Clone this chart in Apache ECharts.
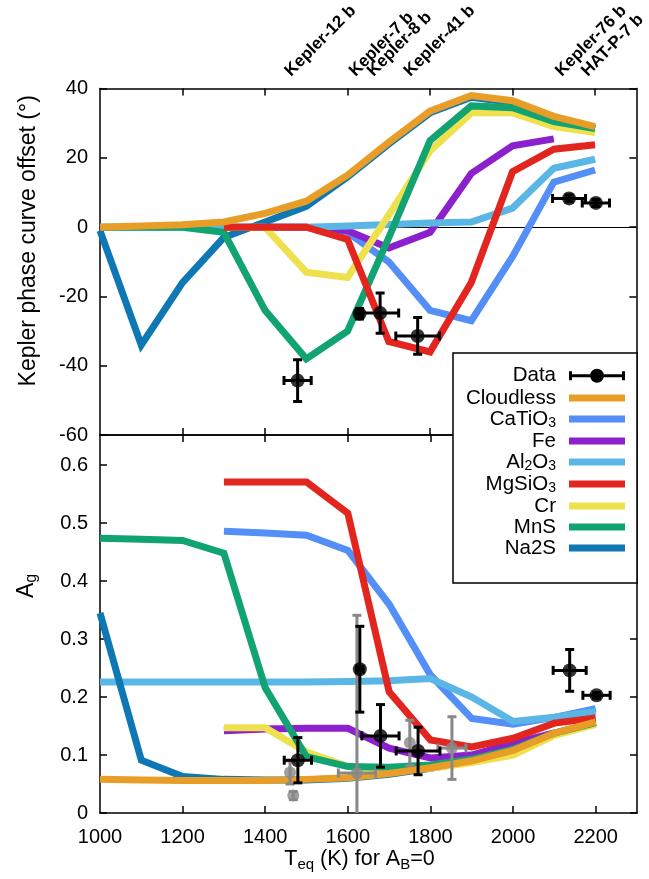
<!DOCTYPE html>
<html><head><meta charset="utf-8">
<script src="https://cdn.jsdelivr.net/npm/echarts@6/dist/echarts.min.js"></script>
<style>html,body{margin:0;padding:0;background:#fff}#c{width:649px;height:879px}</style>
</head><body><div id="c"></div>
<script>
// ---------- data ----------
const teqGrid = [1000,1100,1200,1300,1400,1500,1600,1700,1800,1900,2000,2100,2200];

// Kepler phase curve offset (deg), top panel
const cloudlessOffset = [0, 0.3, 0.7, 1.5, 4, 7.5, 15, 24.5, 33.5, 38, 36.5, 32, 29];
const caTiO3Offset    = [null, null, null, 0, 0, 0, -1.5, -10, -24, -27, -8.5, 13, 16.5];
const feOffset        = [null, null, null, 0, 0, 0, -1, -6, -1.5, 15.5, 23.5, 25.5, null];
const al2o3Offset     = [0, 0, 0, 0, 0, 0, 0.3, 0.8, 1.2, 1.5, 5.5, 17, 19.6];
const mgSiO3Offset    = [null, null, null, 0, 0, 0, -3.5, -33, -36, -16, 16, 22.5, 23.8];
const crOffset        = [null, null, null, 0, 0, -13, -14.5, 3.5, 22, 33, 33, 29, 27.3];
const mnsOffset       = [0, 0, 0, -1.5, -24, -38, -30, -3, 25, 35, 34.5, 30.5, 28.5];
const na2sOffset      = [-1, -34, -16, -3, 1.5, 6, 14.5, 24, 33, 37.5, 36, 31.5, 28.5];

// geometric albedo A_g, bottom panel
const cloudlessAg = [0.058, 0.057, 0.056, 0.056, 0.056, 0.058, 0.061, 0.068, 0.078, 0.09, 0.108, 0.138, 0.157];
const caTiO3Ag    = [null, null, null, 0.486, 0.483, 0.479, 0.453, 0.36, 0.238, 0.163, 0.153, 0.165, 0.18];
const feAg        = [null, null, null, 0.142, 0.145, 0.146, 0.146, 0.112, 0.095, 0.1, 0.12, 0.138, null];
const al2o3Ag     = [0.226, 0.226, 0.226, 0.226, 0.226, 0.226, 0.227, 0.228, 0.232, 0.2, 0.158, 0.165, 0.175];
const mgSiO3Ag    = [null, null, null, 0.571, 0.571, 0.571, 0.517, 0.209, 0.126, 0.114, 0.129, 0.155, 0.164];
const crAg        = [null, null, null, 0.147, 0.147, 0.105, 0.08, 0.073, 0.077, 0.087, 0.1, 0.134, 0.153];
const mnsAg       = [0.474, 0.472, 0.47, 0.448, 0.216, 0.097, 0.08, 0.079, 0.083, 0.093, 0.11, 0.138, 0.156];
const na2sAg      = [0.345, 0.091, 0.063, 0.058, 0.057, 0.057, 0.06, 0.067, 0.077, 0.089, 0.107, 0.137, 0.156];

// observed planets (black)
const dataTeq       = [1479, 1629, 1679, 1770, 2137, 2202];
const dataTeqErr    = [33, 8, 45, 53, 40, 33];
const dataOffset    = [-44.3, -25, -24.8, -31.4, 8.3, 7];
const dataOffsetErr = [6, 1.5, 5.8, 5.3, 1, 1];
const dataAg        = [0.091, 0.248, 0.133, 0.107, 0.246, 0.203];
const dataAgErr     = [0.039, 0.074, 0.054, 0.041, 0.036, 0.005];

// other A_g estimates (grey)
const greyTeq    = [1460, 1468, 1622, 1750, 1852];
const greyTeqErr = [0, 0, 45, 0, 34];
const greyAg     = [0.07, 0.03, 0.069, 0.121, 0.112];
const greyAgErr  = [0.02, 0.007, 0.272, 0.039, 0.054];

// top-axis planet labels
const planetNames    = ['Kepler-12 b', 'Kepler-7 b', 'Kepler-8 b', 'Kepler-41 b', 'Kepler-76 b', 'HAT-P-7 b'];
const planetLabelTeq = [1455, 1611, 1655, 1744, 2111, 2174];

// axis ticks
const xTicks = [1200, 1400, 1600, 1800, 2000, 2200];
const legendNames = ['Cloudless', 'CaTiO3', 'Fe', 'Al2O3', 'MgSiO3', 'Cr', 'MnS', 'Na2S'];

// ---------- styling ----------
const FF = '"Liberation Sans", Arial, Helvetica, sans-serif';
const colors = {
  Cloudless: '#E89D27', CaTiO3: '#538FF7', Fe: '#8B20CC', Al2O3: '#5AB7E5',
  MgSiO3: '#E2261F', Cr: '#EFE04D', MnS: '#12A373', Na2S: '#0F77B4'
};
const offsetSets = {Cloudless: cloudlessOffset, CaTiO3: caTiO3Offset, Fe: feOffset, Al2O3: al2o3Offset,
  MgSiO3: mgSiO3Offset, Cr: crOffset, MnS: mnsOffset, Na2S: na2sOffset};
const agSets = {Cloudless: cloudlessAg, CaTiO3: caTiO3Ag, Fe: feAg, Al2O3: al2o3Ag,
  MgSiO3: mgSiO3Ag, Cr: crAg, MnS: mnsAg, Na2S: na2sAg};
const drawOrder = ['CaTiO3', 'Fe', 'Al2O3', 'Na2S', 'Cr', 'MnS', 'MgSiO3', 'Cloudless'];

function lineSeries(name, vals, grid) {
  const c = colors[name];
  return {
    type: 'line', name, xAxisIndex: grid ? 2 : 0, yAxisIndex: grid ? 2 : 0,
    data: teqGrid.map((t, i) => [t, vals[i]]).filter(p => p[1] !== null),
    showSymbol: false, symbol: 'none', color: c,
    lineStyle: {width: 7, color: c, join: 'miter'}, itemStyle: {color: c},
    animation: false, z: 2
  };
}

function errSeries(name, color, xs, ys, exs, eys, grid, lw, cap) {
  return {
    type: 'custom', name, xAxisIndex: grid ? 2 : 0, yAxisIndex: grid ? 2 : 0,
    clip: true, itemStyle: {color}, animation: false, z: 5,
    encode: {x: 0, y: 1},
    data: xs.map((x, i) => [x, ys[i], exs[i], eys[i]]),
    renderItem(params, api) {
      const x = api.value(0), y = api.value(1), ex = api.value(2), ey = api.value(3);
      const c = api.coord([x, y]);
      const L = api.coord([x - ex, y]), R = api.coord([x + ex, y]);
      const T = api.coord([x, y + ey]), B = api.coord([x, y - ey]);
      const st = {stroke: color, lineWidth: lw};
      const ch = [];
      if (ex > 0) {
        ch.push({type: 'line', shape: {x1: L[0], y1: c[1], x2: R[0], y2: c[1]}, style: st});
        ch.push({type: 'line', shape: {x1: L[0], y1: c[1] - cap, x2: L[0], y2: c[1] + cap}, style: st});
        ch.push({type: 'line', shape: {x1: R[0], y1: c[1] - cap, x2: R[0], y2: c[1] + cap}, style: st});
      }
      if (ey > 0) {
        ch.push({type: 'line', shape: {x1: c[0], y1: T[1], x2: c[0], y2: B[1]}, style: st});
        ch.push({type: 'line', shape: {x1: c[0] - cap, y1: T[1], x2: c[0] + cap, y2: T[1]}, style: st});
        ch.push({type: 'line', shape: {x1: c[0] - cap, y1: B[1], x2: c[0] + cap, y2: B[1]}, style: st});
      }
      return {type: 'group', children: ch};
    }
  };
}

function dotSeries(name, color, xs, ys, grid, size) {
  return {
    type: 'scatter', name, xAxisIndex: grid ? 2 : 0, yAxisIndex: grid ? 2 : 0,
    data: xs.map((x, i) => [x, ys[i]]), symbol: 'circle', symbolSize: size,
    itemStyle: {color}, animation: false, z: 6
  };
}

const series = [];
drawOrder.forEach(n => series.push(lineSeries(n, offsetSets[n], 0)));
drawOrder.forEach(n => series.push(lineSeries(n, agSets[n], 1)));
series.push(errSeries('Data', '#000', dataTeq, dataOffset, dataTeqErr, dataOffsetErr, 0, 3, 4.5));
series.push(dotSeries('Data', '#000', dataTeq, dataOffset, 0, 14));
series.push(errSeries('Other', '#888', greyTeq, greyAg, greyTeqErr, greyAgErr, 1, 3, 4.5));
series.push(dotSeries('Other', '#888', greyTeq, greyAg, 1, 12));
series.push(errSeries('Data', '#000', dataTeq, dataAg, dataTeqErr, dataAgErr, 1, 3, 4.5));
series.push(dotSeries('Data', '#000', dataTeq, dataAg, 1, 14));

const axLine = {color: '#000', width: 1.5};
const xBase = {
  type: 'value', min: 1000, max: 2300, interval: 200,
  splitLine: {show: false},
  axisLine: {show: true, onZero: false, lineStyle: axLine},
  axisTick: {show: true, inside: true, length: 7, lineStyle: axLine, customValues: xTicks},
  axisLabel: {show: false}
};
const yBase = {
  type: 'value', splitLine: {show: false},
  axisLine: {show: true, onZero: false, lineStyle: axLine},
  axisTick: {show: true, inside: true, length: 7, lineStyle: axLine},
  axisLabel: {show: false}
};
const tickLabel = {show: true, fontSize: 20, color: '#000', fontFamily: FF};

function legendFmt(name) {
  if (name === 'CaTiO3') return '{n|CaTiO}{s|3}';
  if (name === 'Al2O3') return '{n|Al}{s|2}{n|O}{s|3}';
  if (name === 'MgSiO3') return '{n|MgSiO}{s|3}';
  return '{n|' + name + '}';
}
const legendText = {
  fontFamily: FF, fontSize: 20.5, color: '#000', padding: [0, 8, 0, 0],
  rich: {
    n: {fontFamily: FF, fontSize: 20.5, lineHeight: 23, color: '#000'},
    s: {fontFamily: FF, fontSize: 14, lineHeight: 10, verticalAlign: 'bottom', color: '#000'}
  }
};

const dataIcon = 'path://M0,2.5h3v9h-3z M53,2.5h3v9h-3z M3,5.5h18.1v3h-18.1z M34.9,5.5h18.1v3h-18.1z M21,7a7,7 0 1,0 14,0a7,7 0 1,0 -14,0z';

const option = {
  backgroundColor: '#fff',
  animation: false,
  grid: [
    {left: 100, top: 88, width: 537, height: 347},
    {left: 100, top: 435, width: 537, height: 378}
  ],
  xAxis: [
    Object.assign({}, xBase, {gridIndex: 0, position: 'bottom'}),
    Object.assign({}, xBase, {gridIndex: 0, position: 'top',
      axisLabel: {show: true, customValues: planetLabelTeq, rotate: -45, margin: 15,
        fontSize: 17, fontWeight: 'bold', color: '#000', fontFamily: FF,
        formatter: v => { const i = planetLabelTeq.indexOf(v); return i >= 0 ? planetNames[i] : ''; }}}),
    Object.assign({}, xBase, {gridIndex: 1, position: 'bottom',
      axisLabel: Object.assign({}, tickLabel, {margin: 14, showMaxLabel: false, formatter: v => String(v)}),
      name: '{n|T}{s|eq}{n| (K) for A}{s|B}{n|=0}', nameLocation: 'middle', nameGap: 32,
      nameTextStyle: {fontFamily: FF, color: '#000', padding: [0, 18, 0, 0], rich: {
        n: {fontFamily: FF, fontSize: 21.5, lineHeight: 26, color: '#000'},
        s: {fontFamily: FF, fontSize: 15, lineHeight: 12, verticalAlign: 'bottom', color: '#000'}}}}),
    Object.assign({}, xBase, {gridIndex: 1, position: 'top'}),
    {type: 'value', gridIndex: 0, min: 1000, max: 2300, position: 'bottom',
      axisLine: {show: true, onZero: true, onZeroAxisIndex: 0, lineStyle: {color: '#000', width: 1}},
      axisTick: {show: false}, axisLabel: {show: false}, splitLine: {show: false}}
  ],
  yAxis: [
    Object.assign({}, yBase, {gridIndex: 0, position: 'left', min: -60, max: 40, interval: 20,
      axisLabel: Object.assign({}, tickLabel, {margin: 12}),
      name: 'Kepler phase curve offset (°)', nameLocation: 'middle', nameGap: 60,
      nameTextStyle: {fontFamily: FF, fontSize: 23, color: '#000', padding: [0, 0, 0, 42]}}),
    Object.assign({}, yBase, {gridIndex: 0, position: 'right', min: -60, max: 40, interval: 20}),
    Object.assign({}, yBase, {gridIndex: 1, position: 'left', min: 0, max: 0.652, interval: 0.1,
      axisLabel: Object.assign({}, tickLabel, {margin: 12, showMaxLabel: false}),
      name: '{a|A}{g|g}', nameLocation: 'middle', nameGap: 60,
      nameTextStyle: {fontFamily: FF, color: '#000', padding: [0, 0, 0, 76], rich: {
        a: {fontFamily: FF, fontSize: 23, lineHeight: 26, color: '#000'},
        g: {fontFamily: FF, fontSize: 16, lineHeight: 12, verticalAlign: 'bottom', color: '#000'}}}}),
    Object.assign({}, yBase, {gridIndex: 1, position: 'right', min: 0, max: 0.652, interval: 0.1})
  ],
  legend: [
    {data: [{name: 'Data', icon: dataIcon, itemStyle: {color: '#000'}}],
      orient: 'vertical', align: 'right', right: 24, top: 365.2, padding: 0,
      itemWidth: 56, itemHeight: 14, itemGap: 0, selectedMode: false,
      itemStyle: {borderWidth: 0}, formatter: legendFmt, textStyle: legendText, z: 5},
    {data: legendNames.map(n => ({name: n, icon: 'rect', itemStyle: {color: colors[n], borderWidth: 0}})),
      orient: 'vertical', align: 'right', right: 24, top: 387.5, padding: 0,
      itemWidth: 56, itemHeight: 7, itemGap: 0, selectedMode: false,
      itemStyle: {borderWidth: 0}, formatter: legendFmt, textStyle: legendText, z: 5}
  ],
  graphic: [
    {type: 'rect', shape: {x: 453, y: 353, width: 184, height: 230},
      style: {fill: '#fff', stroke: '#000', lineWidth: 1.5}, z: 4}
  ],
  series
};

const chart = echarts.init(document.getElementById('c'), null, {renderer: 'canvas'});
chart.setOption(option);
</script>
</body></html>
